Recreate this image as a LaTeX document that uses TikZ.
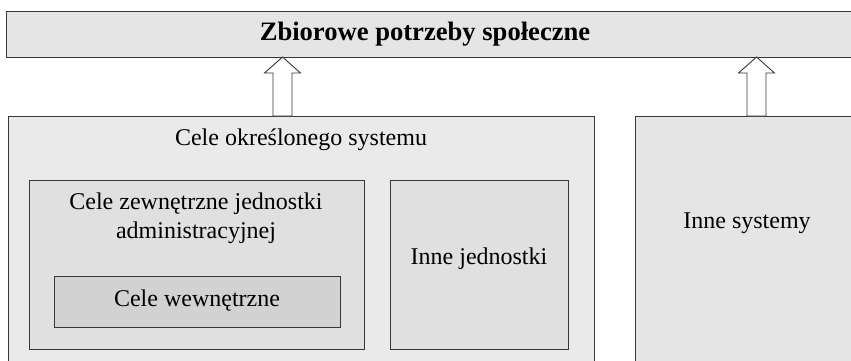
\documentclass[tikz,border=0pt]{standalone}
\usepackage{fontspec}
\setmainfont{LiberationSerif}[Extension=.ttf, UprightFont=*-Regular, BoldFont=*-Bold]
\usetikzlibrary{calc}

\definecolor{edge}{RGB}{55,55,55}
\definecolor{fillTop}{RGB}{229,229,229}
\definecolor{fillSys}{RGB}{234,234,234}
\definecolor{fillUnit}{RGB}{224,224,224}
\definecolor{fillCore}{RGB}{210,210,210}
\definecolor{fillOther}{RGB}{229,229,229}

\tikzset{
  panel/.style={draw=edge, line width=1pt},
  lbl/.style={font=\fontsize{24}{29}\selectfont, align=center, inner sep=0pt},
  blockarrow/.style={draw=edge, line width=0.9pt, fill=white, line join=miter},
}

\begin{document}
\begin{tikzpicture}[x=1pt, y=-1pt]
  \clip (0,0) rectangle (851,360);
  \fill[white] (0,0) rectangle (851,360);

  % social needs bar across the top
  \draw[panel, fill=fillTop] (6,11) rectangle (870,57);
  \node[lbl, font=\fontsize{26.6}{30}\selectfont\bfseries] (need) at (425,34) {Zbiorowe potrzeby społeczne};
  \coordinate (needS) at (425,57);

  % the given system and its units
  \draw[panel, fill=fillSys] (8,116) rectangle (594,380);
  \coordinate (sysN) at (301,116);
  \node[lbl] (sys) at (301,140) {Cele określonego systemu};

  \draw[panel, fill=fillUnit] (29,180) rectangle (364,349);
  \node[lbl] (ext) at (196,218) {Cele zewnętrzne jednostki\\administracyjnej};

  \draw[panel, fill=fillCore] (54,276) rectangle (340,327);
  \node[lbl] (int) at (197,301) {Cele wewnętrzne};

  \draw[panel, fill=fillUnit] (390,180) rectangle (568,349);
  \node[lbl] (units) at (479,259) {Inne jednostki};

  % other systems
  \draw[panel, fill=fillOther] (635,116) rectangle (870,380);
  \coordinate (othN) at (756,116);
  \node[lbl] (oth) at (747,223) {Inne systemy};

  % block arrows up into the needs bar
  \coordinate (a1s) at (282.5,0 |- sysN);
  \coordinate (a1t) at (282.5,0 |- needS);
  \coordinate (a2s) at (756.5,0 |- othN);
  \coordinate (a2t) at (756.5,0 |- needS);
  \foreach \s/\t in {a1s/a1t, a2s/a2t}{
    \draw[blockarrow] ($(\s)+(-9.5,0)$) -- ($(\t)+(-9.5,16)$) -- ($(\t)+(-18,16)$)
      -- (\t) -- ($(\t)+(18,16)$) -- ($(\t)+(9.5,16)$) -- ($(\s)+(9.5,0)$) -- cycle;
  }
\end{tikzpicture}
\end{document}
